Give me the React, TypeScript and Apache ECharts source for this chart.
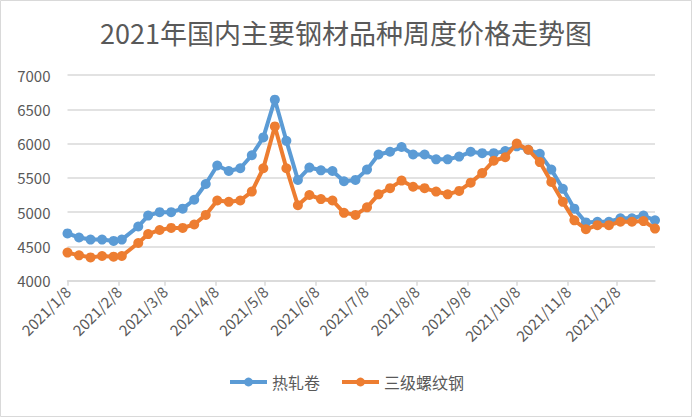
import React, { useEffect, useRef } from "react";
import * as echarts from "echarts";

const dates = [
  "2021/1/8", "2021/1/15", "2021/1/22", "2021/1/29",
  "2021/2/5", "2021/2/10", "2021/2/20", "2021/2/26",
  "2021/3/5", "2021/3/12", "2021/3/19", "2021/3/26",
  "2021/4/2", "2021/4/9", "2021/4/16", "2021/4/23", "2021/4/30",
  "2021/5/7", "2021/5/14", "2021/5/21", "2021/5/28",
  "2021/6/4", "2021/6/11", "2021/6/18", "2021/6/25",
  "2021/7/2", "2021/7/9", "2021/7/16", "2021/7/23", "2021/7/30",
  "2021/8/6", "2021/8/13", "2021/8/20", "2021/8/27",
  "2021/9/3", "2021/9/10", "2021/9/17", "2021/9/24",
  "2021/10/1", "2021/10/8", "2021/10/15", "2021/10/22", "2021/10/29",
  "2021/11/5", "2021/11/12", "2021/11/19", "2021/11/26",
  "2021/12/3", "2021/12/10", "2021/12/17", "2021/12/24", "2021/12/31",
];

const hotRolled = [
  4690, 4630, 4600, 4600,
  4580, 4600, 4790, 4950,
  5000, 5000, 5050, 5180,
  5410, 5680, 5600, 5640, 5830,
  6090, 6640, 6040, 5470,
  5650, 5610, 5600, 5450,
  5470, 5620, 5840, 5880, 5950,
  5840, 5840, 5770, 5770,
  5810, 5880, 5860, 5860,
  5890, 5960, 5910, 5850, 5620,
  5340, 5050, 4850, 4860,
  4860, 4910, 4910, 4950, 4880,
];

const rebar = [
  4410, 4370, 4340, 4360,
  4350, 4360, 4550, 4680,
  4740, 4770, 4770, 4820,
  4960, 5170, 5150, 5170, 5300,
  5640, 6250, 5640, 5100,
  5250, 5190, 5170, 4990,
  4960, 5070, 5260, 5350, 5460,
  5370, 5350, 5300, 5260,
  5310, 5430, 5570, 5750,
  5800, 6000, 5910, 5730, 5440,
  5150, 4880, 4750, 4810,
  4810, 4860, 4860, 4870, 4760,
];

const xTickLabels = [
  "2021/1/8", "2021/2/8", "2021/3/8", "2021/4/8", "2021/5/8", "2021/6/8",
  "2021/7/8", "2021/8/8", "2021/9/8", "2021/10/8", "2021/11/8", "2021/12/8",
];

const seriesNames = ["热轧卷", "三级螺纹钢"];
const seriesColors = ["#5B9BD5", "#ED7D31"];
const title = "2021年国内主要钢材品种周度价格走势图";

const startDate = "2021/1/8";
const endDate = "2021/12/31";

function toUTC(s: string): number {
  const [y, m, d] = s.split("/").map(Number);
  return Date.UTC(y, m - 1, d);
}
function dayOffset(s: string): number {
  return Math.round((toUTC(s) - toUTC(startDate)) / 86400000);
}

const labelByOffset: Record<number, string> = {};
xTickLabels.forEach((l) => {
  labelByOffset[dayOffset(l)] = l;
});

export default function App() {
  const ref = useRef<HTMLDivElement>(null);
  useEffect(() => {
    if (!ref.current) return;
    const chart = echarts.init(ref.current, null, { renderer: "svg" });
    const font = "'Noto Sans CJK SC', 'Noto Sans', sans-serif";
    const textColor = "#595959";
    const gridColor = "#d9d9d9";
    const tickOffsets = xTickLabels.map(dayOffset);
    const values = [hotRolled, rebar];
    chart.setOption({
      animation: false,
      backgroundColor: "#ffffff",
      textStyle: { fontFamily: font },
      title: {
        text: title,
        left: "center",
        top: 14,
        textStyle: {
          fontSize: 27,
          fontWeight: "normal",
          color: textColor,
          fontFamily: font,
        },
      },
      graphic: [
        {
          type: "rect",
          shape: { x: 0.5, y: 0.5, width: 691, height: 416 },
          style: { fill: "none", stroke: gridColor, lineWidth: 1 },
          silent: true,
        },
      ],
      legend: {
        bottom: 22,
        left: "center",
        itemWidth: 37,
        itemHeight: 11,
        itemGap: 20,
        lineStyle: { width: 4 },
        textStyle: { fontSize: 16, color: textColor, fontFamily: font },
        data: seriesNames,
      },
      grid: {
        left: 67.5,
        right: 37,
        top: 75,
        bottom: 136.3,
        containLabel: false,
      },
      xAxis: {
        type: "value",
        min: 0,
        max: dayOffset(endDate),
        splitLine: { show: false },
        axisLine: { show: true, lineStyle: { color: gridColor, width: 1.5 } },
        axisTick: {
          show: true,
          customValues: tickOffsets,
          length: 5,
          lineStyle: { color: gridColor, width: 1.5 },
        },
        axisLabel: {
          customValues: tickOffsets,
          rotate: 45,
          margin: 8,
          fontSize: 15,
          color: textColor,
          fontFamily: font,
          formatter: (v: number) => labelByOffset[Math.round(v)] ?? "",
        },
      },
      yAxis: {
        type: "value",
        min: 4000,
        max: 7000,
        interval: 500,
        axisLine: { show: false },
        axisTick: { show: false },
        splitLine: { lineStyle: { color: gridColor, width: 1.5 } },
        axisLabel: {
          fontSize: 15,
          color: textColor,
          margin: 17,
          fontFamily: font,
          formatter: (v: number) => String(v),
        },
      },
      series: seriesNames.map((name, k) => ({
        name,
        type: "line",
        data: dates.map((d, i) => [dayOffset(d), values[k][i]]),
        symbol: "circle",
        symbolSize: 10,
        lineStyle: { width: 4, color: seriesColors[k] },
        itemStyle: { color: seriesColors[k] },
        z: 2 + k,
      })),
    });
    return () => chart.dispose();
  }, []);
  return (
    <div
      ref={ref}
      style={{ position: "fixed", left: 0, top: 0, width: 692, height: 417 }}
    />
  );
}
